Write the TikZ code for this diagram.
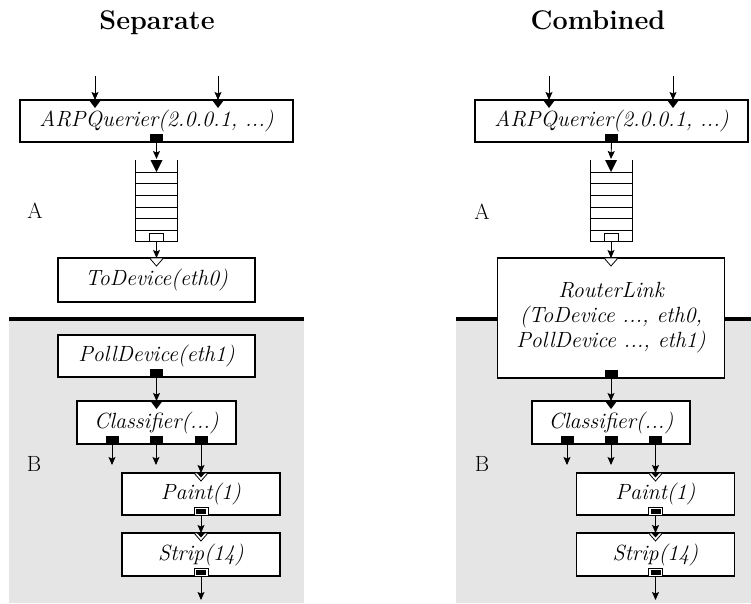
\documentclass[tikz,border=0pt]{standalone}
\usepackage{fontspec}
\usetikzlibrary{arrows.meta,calc}
\definecolor{panelgray}{RGB}{229,229,229}
% port glyphs, placed at a point on a box edge (y grows downwards)
\newcommand{\pushin}[2][8]{\fill (#2) ++(-6,0) -- ++(12,0) -- ++(-6,#1) -- cycle;}
\newcommand{\pushout}[1]{\fill (#1) ++(-6.5,0) rectangle ++(13,-8);}
\newcommand{\pullin}[1]{\filldraw[fill=white,line width=0.8pt] (#1) ++(-7,0) -- ++(14,0) -- ++(-7,8) -- cycle;}
\newcommand{\pullout}[1]{\filldraw[fill=white,line width=0.8pt] (#1) ++(-7,0) rectangle ++(14,-8);}
\newcommand{\agnin}[1]{\filldraw[fill=white,line width=0.8pt] (#1) ++(-7,0) -- ++(14,0) -- ++(-7,8) -- cycle;
  \fill (#1) ++(-4,0) -- ++(8,0) -- ++(-4,4.5) -- cycle;}
\newcommand{\agnout}[1]{\filldraw[fill=white,line width=0.8pt] (#1) ++(-7,0) rectangle ++(14,-8);
  \fill (#1) ++(-5,-1) rectangle ++(10,-5.5);}
\begin{document}
\begin{tikzpicture}[x=1pt,y=-1pt,
  box/.style={draw, line width=1.6pt, fill=white, inner sep=0pt, outer sep=0pt,
    font=\fontsize{22}{25}\selectfont\itshape\addfontfeature{FakeBold=0.4}},
  hibox/.style={box, line width=2.6pt},
  arr/.style={line width=0.9pt, -{Stealth[width=7pt,length=8pt,inset=1.5pt]}},
  title/.style={font=\fontsize{27}{30}\selectfont\bfseries, anchor=base},
  lbl/.style={font=\fontsize{22}{24}\selectfont\addfontfeature{FakeBold=0.4}},
  divider/.style={line width=4pt},
  qline/.style={line width=1pt}]
\useasboundingbox (0,0) rectangle (751,603);

% shaded lower regions and divider lines
\fill[panelgray] (9,319) rectangle (304,603);
\fill[panelgray] (456,319) rectangle (751,603);
\draw[divider] (9,319) -- (304,319);
\draw[divider] (456,319) -- (751,319);

% titles and region labels
\node[title] (tS) at (157,29) {Separate};
\node[title] (tC) at (598,29) {Combined};
\node[lbl] (lA1) at (35,211) {A};
\node[lbl] (lB1) at (34,464) {B};
\node[lbl] (lA2) at (482,212) {A};
\node[lbl] (lB2) at (482,464) {B};

% ---------------- separate configuration ----------------
\node[box, minimum width=273, minimum height=42] (arp1) at (156.5,121) {ARPQuerier(2.0.0.1, ...)};
\node[minimum width=42, minimum height=81, inner sep=0pt, outer sep=0pt] (q1) at (156.5,200.5) {};
\draw[qline] (q1.north west) -- (q1.south west) -- (q1.south east) -- (q1.north east);
\foreach \yy in {172,183.5,195,207,218.5,230} \draw[qline] (q1.west |- 0,\yy) -- (q1.east |- 0,\yy);
\node[box, minimum width=197, minimum height=44] (tod) at (156.5,280) {ToDevice(eth0)};
\node[box, minimum width=197, minimum height=42] (pd) at (156.5,356) {PollDevice(eth1)};
\node[hibox, minimum width=159, minimum height=43] (cl1) at (156.5,422.5) {\addfontfeature{FakeBold=1.2}Classifier(...)};
\node[box, minimum width=158, minimum height=42] (pa1) at (201,494) {Paint(1)};
\node[box, minimum width=158, minimum height=43] (st1) at (201,554.5) {Strip(14)};

\coordinate (in1a) at (95,76);
\coordinate (in1b) at (218,76);
\coordinate (arp1a) at (95,100);
\coordinate (arp1b) at (218,100);
\coordinate (c1o1) at ($(cl1.south)+(-44.5,0)$);
\coordinate (c1o2) at ($(cl1.south)+(-0.5,0)$);
\coordinate (c1o3) at ($(cl1.south)+(44.5,0)$);
\coordinate (d1a) at ($(c1o1)+(0,21)$);
\coordinate (d1b) at ($(c1o2)+(0,21)$);
\coordinate (out1) at ($(st1.south)+(0,24)$);

\pushin{arp1a} \pushin{arp1b}
\pushout{arp1.south}
\pushin[12]{q1.north}
\pullout{q1.south}
\pullin{tod.north}
\pushout{pd.south}
\pushin{cl1.north}
\pushout{c1o1} \pushout{c1o2} \pushout{c1o3}
\agnin{pa1.north} \agnout{pa1.south}
\agnin{st1.north} \agnout{st1.south}

\draw[arr] (in1a) -- (arp1a);
\draw[arr] (in1b) -- (arp1b);
\draw[arr] (arp1.south) -- ($(q1.north)+(0,-1)$);
\draw[arr] (q1.south) -- (tod.north);
\draw[arr] (pd.south) -- (cl1.north);
\draw[arr] (c1o1) -- (d1a);
\draw[arr] (c1o2) -- (d1b);
\draw[arr] (c1o3) -- (c1o3 |- pa1.north);
\draw[arr] (pa1.south) -- (st1.north);
\draw[arr] (st1.south) -- (out1);

% ---------------- combined configuration ----------------
\node[box, minimum width=273, minimum height=42] (arp2) at (611.5,121) {ARPQuerier(2.0.0.1, ...)};
\node[minimum width=42, minimum height=81, inner sep=0pt, outer sep=0pt] (q2) at (611,200.5) {};
\draw[qline] (q2.north west) -- (q2.south west) -- (q2.south east) -- (q2.north east);
\foreach \yy in {172,183.5,195,207,218.5,230} \draw[qline] (q2.west |- 0,\yy) -- (q2.east |- 0,\yy);
\node[box, minimum width=227, minimum height=120, align=center] (rl) at (611,318)
  {RouterLink\\(ToDevice ..., eth0,\\PollDevice ..., eth1)};
\node[box, minimum width=158, minimum height=43] (cl2) at (611,422.5) {Classifier(...)};
\node[box, minimum width=158, minimum height=42] (pa2) at (655.5,494) {Paint(1)};
\node[box, minimum width=158, minimum height=43] (st2) at (655.5,554.5) {Strip(14)};

\coordinate (in2a) at (549,76);
\coordinate (in2b) at (673,76);
\coordinate (arp2a) at (549,100);
\coordinate (arp2b) at (673,100);
\coordinate (c2o1) at ($(cl2.south)+(-44,0)$);
\coordinate (c2o2) at ($(cl2.south)+(0,0)$);
\coordinate (c2o3) at ($(cl2.south)+(44.5,0)$);
\coordinate (d2a) at ($(c2o1)+(0,21)$);
\coordinate (d2b) at ($(c2o2)+(0,21)$);
\coordinate (out2) at ($(st2.south)+(0,24)$);

\pushin{arp2a} \pushin{arp2b}
\pushout{arp2.south}
\pushin[12]{q2.north}
\pullout{q2.south}
\pullin{rl.north}
\pushout{rl.south}
\pushin{cl2.north}
\pushout{c2o1} \pushout{c2o2} \pushout{c2o3}
\agnin{pa2.north} \agnout{pa2.south}
\agnin{st2.north} \agnout{st2.south}

\draw[arr] (in2a) -- (arp2a);
\draw[arr] (in2b) -- (arp2b);
\draw[arr] (arp2.south) -- ($(q2.north)+(0,-1)$);
\draw[arr] (q2.south) -- (rl.north);
\draw[arr] (rl.south) -- (cl2.north);
\draw[arr] (c2o1) -- (d2a);
\draw[arr] (c2o2) -- (d2b);
\draw[arr] (c2o3) -- (c2o3 |- pa2.north);
\draw[arr] (pa2.south) -- (st2.north);
\draw[arr] (st2.south) -- (out2);
\end{tikzpicture}
\end{document}
